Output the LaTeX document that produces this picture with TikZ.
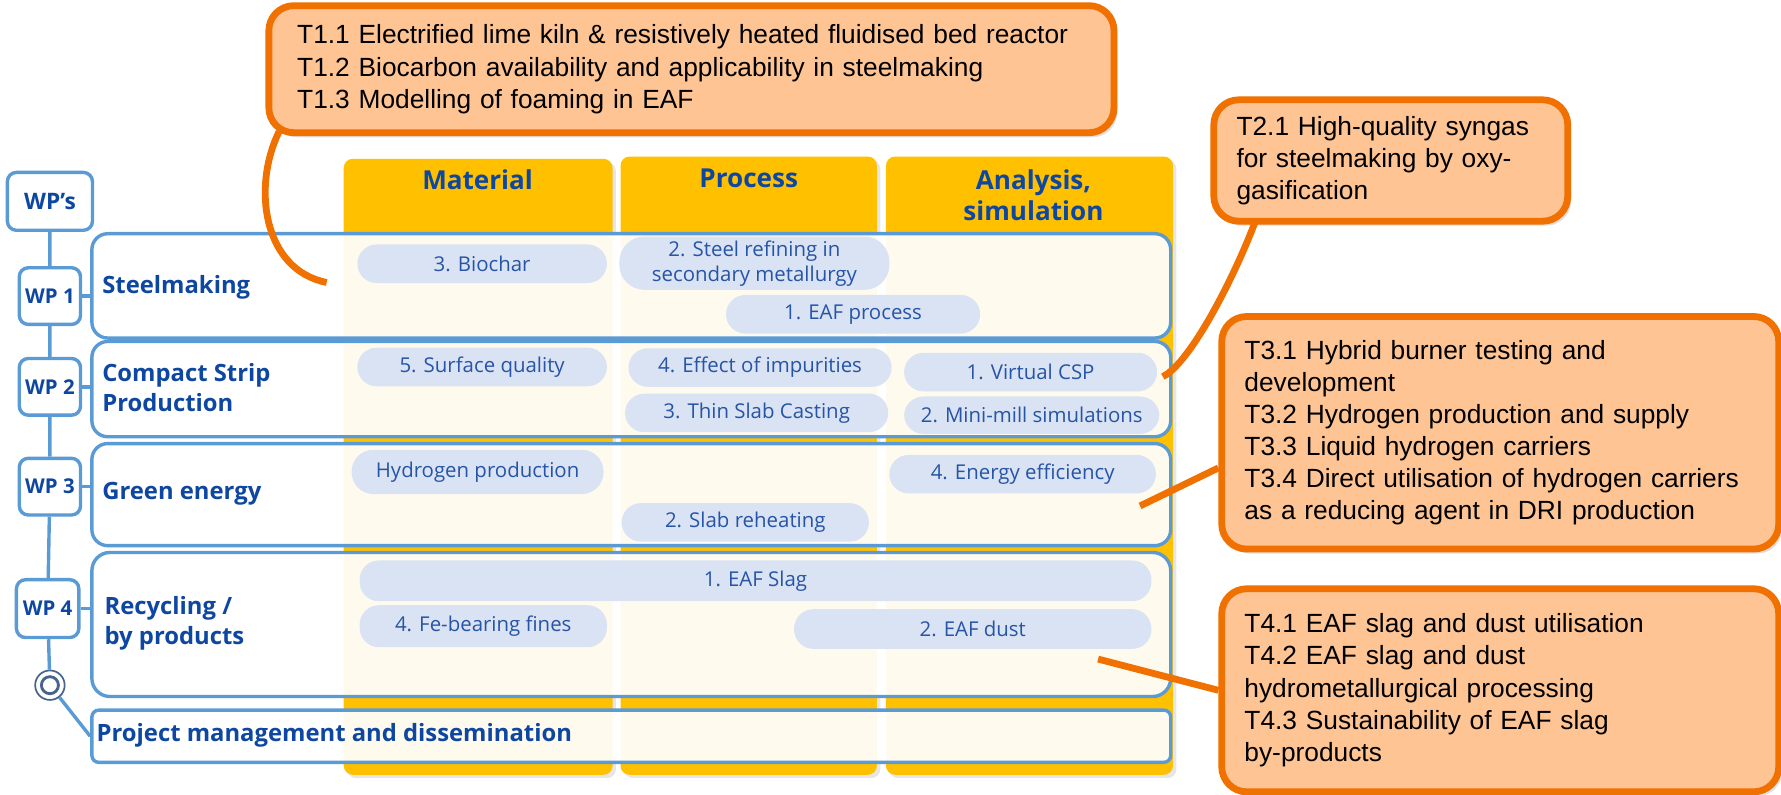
\documentclass[tikz,border=0pt]{standalone}
\usepackage{fontspec}
\setmainfont{Open Sans}
\newfontfamily\taskfont{Liberation Sans}
\usetikzlibrary{fit,shadows}

\definecolor{wpblue}{RGB}{91,155,213}
\definecolor{wptext}{RGB}{14,71,161}
\definecolor{pillfill}{RGB}{218,227,243}
\definecolor{pilltext}{RGB}{38,84,166}
\definecolor{colyellow}{RGB}{255,192,0}
\definecolor{colcream}{RGB}{255,250,238}
\definecolor{taskorange}{RGB}{240,112,0}
\definecolor{taskfill}{RGB}{254,196,148}
\definecolor{ringblue}{RGB}{70,100,140}

\tikzset{
  wpbox/.style={draw=wpblue, line width=3, rounded corners=8, fill=white, text=wptext,
    font=\bfseries\fontsize{18}{20}\selectfont, minimum width=54, minimum height=50, inner sep=0},
  rowbox/.style={draw=wpblue, line width=3, rounded corners=14, inner sep=0},
  rowlabel/.style={anchor=west, align=left, text=wptext, inner sep=0,
    font=\bfseries\fontsize{21}{26}\selectfont},
  headtext/.style={align=center, text=wptext, font=\bfseries\fontsize{23}{28}\selectfont},
  pill/.style={fill=pillfill, text=pilltext, rounded corners=17, minimum height=34, inner sep=0,
    font=\fontsize{18}{22}\selectfont},
  taskbox/.style={draw=taskorange, fill=taskfill, line width=6, rounded corners=22, inner xsep=20,
    align=left, font=\taskfont\fontsize{23.2}{28.3}\selectfont,
    drop shadow={shadow xshift=3pt, shadow yshift=-4pt, opacity=0.25}},
  tail/.style={draw=taskorange, line width=6},
}

\begin{document}
\begin{tikzpicture}[x=1pt, y=-1pt]
  \useasboundingbox (0,0) rectangle (1570,700.8);

  % columns
  \foreach \xa/\xb/\ya in {303/540/140, 547/773/138, 781/1034/138}
    \fill[colyellow, rounded corners=8, drop shadow={shadow xshift=3pt, shadow yshift=-3pt, opacity=0.2}]
      (\xa,\ya) rectangle (\xb,683);

  \node[headtext] (hmat) at (421,158) {Material};
  \node[headtext] (hproc) at (660,157) {Process};
  \node[headtext] (hana) at (911,172) {Analysis,\\simulation};

  % work package rows
  \foreach \n/\ya/\yb/\rc in {r1/206/298/14, r2/301/385/14, r3/391/481/14, r4/487/614/16, pm/626/672/6}{
    \fill[white, rounded corners=\rc] (81,\ya) rectangle (1032,\yb);
    \begin{scope}
      \clip[rounded corners=\rc] (81,\ya) rectangle (1032,\yb);
      \fill[colcream] (303,\ya) rectangle (540,\yb) (547,\ya) rectangle (773,\yb) (781,\ya) rectangle (1034,\yb);
    \end{scope}
    \node[rowbox, rounded corners=\rc, fit={(81,\ya) (1032,\yb)}] (\n) {};
  }

  \node[rowlabel] (lab1) at (90,253) {Steelmaking};
  \node[rowlabel] (lab2) at (90,341.5) {Compact Strip\\Production};
  \node[rowlabel] (lab3) at (90,435) {Green energy};
  \node[rowlabel] (lab4) at (92,549.5) {Recycling /\\by products};
  \node[rowlabel] (labpm) at (85,648) {Project management and dissemination};

  % WP chain
  \node[wpbox, minimum width=75, minimum height=51, font=\bfseries\fontsize{20}{22}\selectfont] (wps) at (44,177.5) {WP’s};
  \node[wpbox] (wp1) at (44,261) {WP 1};
  \node[wpbox] (wp2) at (44,341) {WP 2};
  \node[wpbox] (wp3) at (44,429) {WP 3};
  \node[wpbox, minimum width=55, minimum height=51] (wp4) at (42,536.5) {WP 4};
  \node[circle, draw=ringblue, line width=1.5, fill=white, minimum size=26, inner sep=0] (ring) at (44,604) {};
  \draw[ringblue, line width=2.5] (ring.center) circle (7.5);

  \draw[wpblue, line width=3] (wps) -- (wp1) -- (wp2) -- (wp3) -- (wp4) -- (ring);
  \draw[wpblue, line width=3] (ring) -- (pm.west);
  \foreach \w/\r in {wp1/r1, wp2/r2, wp3/r3, wp4/r4}
    \draw[wpblue, line width=3] (\w.east) -- (\w.east -| \r.west);

  % tasks in the rows
  \node[pill, minimum width=220] (biochar) at (425,232.5) {3. Biochar};
  \node[pill, minimum width=238, minimum height=47, rounded corners=22, align=center] (refine) at (665,232) {2. Steel refining in\\secondary metallurgy};
  \node[pill, minimum width=224] (eafproc) at (752,277) {1. EAF process};
  \node[pill, minimum width=220] (surface) at (425,323.5) {5. Surface quality};
  \node[pill, minimum width=232] (impur) at (670,324) {4. Effect of impurities};
  \node[pill, minimum width=223] (vcsp) at (908.5,328) {1. Virtual CSP};
  \node[pill, minimum width=232] (thinslab) at (667,364) {3. Thin Slab Casting};
  \node[pill, minimum width=225, minimum height=33] (minimill) at (909.5,366) {2. Mini-mill simulations};
  \node[pill, minimum width=222, minimum height=39, rounded corners=19] (hydro) at (421,416) {Hydrogen production};
  \node[pill, minimum width=235] (effic) at (901.5,418) {4. Energy efficiency};
  \node[pill, minimum width=218] (reheat) at (657,460.5) {2. Slab reheating};
  \node[pill, minimum width=698, minimum height=36] (slag) at (666,512) {1. EAF Slag};
  \node[pill, minimum width=218, minimum height=37] (fines) at (426,552) {4. Fe-bearing fines};
  \node[pill, minimum width=315, minimum height=35] (dust) at (857.5,554.5) {2. EAF dust};

  % task callouts
  \node[taskbox, text width=695, inner xsep=25, minimum height=112] (t1) at (609.5,61)
    {T1.1 Electrified lime kiln \& resistively heated fluidised bed reactor\\T1.2 Biocarbon availability and applicability in steelmaking\\T1.3 Modelling of foaming in EAF};
  \node[taskbox, text width=272, minimum height=107] (t2) at (1226,141.5)
    {T2.1 High-quality syngas\\for steelmaking by oxy-\\gasification};
  \node[taskbox, text width=451, minimum height=205] (t3) at (1322.5,381.5)
    {T3.1 Hybrid burner testing and\\development\\T3.2 Hydrogen production and supply\\T3.3 Liquid hydrogen carriers\\T3.4 Direct utilisation of hydrogen carriers\\as a reducing agent in DRI production};
  \node[taskbox, text width=451, minimum height=179] (t4) at (1322.5,608.5)
    {T4.1 EAF slag and dust utilisation\\T4.2 EAF slag and dust\\hydrometallurgical processing\\T4.3 Sustainability of EAF slag\\by-products};

  \coordinate (t1end) at (288,249);
  \coordinate (t2end) at (1025,332);
  \coordinate (t3end) at (1005,446);
  \coordinate (t4end) at (968,581);
  \draw[tail] ([xshift=12pt, yshift=4pt]t1.south west) .. controls (222,165) and (232,238) .. (t1end);
  \draw[tail] ([xshift=40pt, yshift=4pt]t2.south west) .. controls (1090,240) and (1050,320) .. (t2end);
  \draw[tail] ([yshift=-31pt]t3.west) -- (t3end);
  \draw[tail] (t4.west) -- (t4end);
\end{tikzpicture}
\end{document}
